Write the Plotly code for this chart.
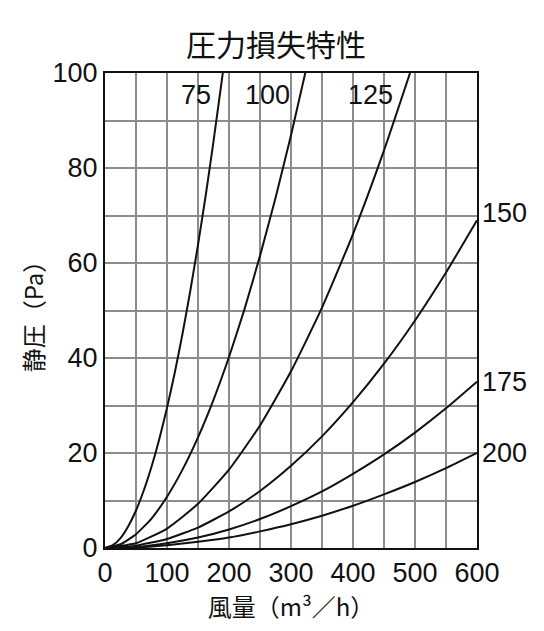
import plotly.graph_objects as go

INK = "#111111"
GRID = "#8c8c8c"
NUM = "Liberation Sans, Arial, sans-serif"
JP = "Noto Sans CJK JP, sans-serif"

# duct size labels and read-off curves (airflow m3/h -> static pressure Pa)
sizes = ["75", "100", "125", "150", "175", "200"]

q_75 = [0, 12.5, 25, 37.5, 50, 62.5, 75, 87.5, 100, 112.5, 125, 137.5, 150,
        162.5, 175, 190]
p_75 = [0, 0.6, 2.1, 4.6, 7.9, 12.1, 17.1, 22.9, 29.5, 36.9, 45.1, 54.1, 63.8,
        74.3, 85.6, 100]

q_100 = [0, 25, 50, 75, 100, 125, 150, 175, 200, 225, 250, 275, 300, 323]
p_100 = [0, 0.8, 2.9, 6.2, 10.8, 16.5, 23.3, 31.2, 40.2, 50.3, 61.5, 73.7,
         86.9, 100]

q_125 = [0, 50, 100, 150, 200, 250, 300, 350, 400, 450, 492]
p_125 = [0, 1.0, 4.1, 9.3, 16.5, 25.8, 37.2, 50.6, 66.1, 83.7, 100]

q_wide = [0, 50, 100, 150, 200, 250, 300, 350, 400, 450, 500, 550, 600]
p_150 = [0, 0.5, 1.9, 4.3, 7.7, 12.0, 17.3, 23.5, 30.7, 38.8, 47.9, 58.0, 69.0]
p_175 = [0, 0.2, 1.0, 2.2, 3.9, 6.1, 8.8, 11.9, 15.6, 19.7, 24.3, 29.4, 35.0]
p_200 = [0, 0.1, 0.6, 1.3, 2.2, 3.5, 5.0, 6.8, 8.9, 11.3, 13.9, 16.8, 20.0]

x_ticks = [0, 100, 200, 300, 400, 500, 600]
y_ticks = [0, 20, 40, 60, 80, 100]

curves = [
    (q_75, p_75), (q_100, p_100), (q_125, p_125),
    (q_wide, p_150), (q_wide, p_175), (q_wide, p_200),
]

fig = go.Figure()
for name, (q, p) in zip(sizes, curves):
    fig.add_trace(go.Scatter(
        x=q, y=p, name=name, mode="lines", showlegend=False,
        line={"color": INK, "width": 2, "shape": "spline", "smoothing": 0.5},
    ))

label_font = {"family": NUM, "size": 27, "color": INK}
# labels for the steep curves sit inside the top of the plot
for name, x in (("75", 174), ("100", 302), ("125", 468)):
    fig.add_annotation(x=x, y=95.4, text=name, showarrow=False,
                       xanchor="right", font=label_font)
# the flat ones are labelled just past the right edge
for name, y in (("150", p_150[-1] + 1.5), ("175", p_175[-1]), ("200", p_200[-1])):
    fig.add_annotation(x=1, xref="paper", y=y, text=name, showarrow=False,
                       xanchor="left", xshift=3, font=label_font)

axis = {
    "showline": True, "linecolor": INK, "linewidth": 2, "mirror": True,
    "zeroline": False, "gridcolor": GRID, "gridwidth": 1.6,
    "tickfont": {"family": NUM, "size": 27, "color": INK},
    "ticks": "", "fixedrange": True,
}
# the page body adds an 8px margin, so the figure is sized 8px short
fig.update_layout(
    width=536, height=623,
    paper_bgcolor="white", plot_bgcolor="white",
    margin={"l": 97, "r": 67, "t": 65, "b": 83},
    title={"text": "圧力損失特性", "x": 0.5, "xanchor": "center",
           "xref": "container", "yref": "container",
           "y": 0.94, "yanchor": "middle",
           "font": {"family": JP, "size": 30, "color": INK}},
    xaxis={**axis, "range": [0, 600], "tickvals": x_ticks,
           "minor": {"dtick": 50, "showgrid": True, "gridcolor": GRID,
                     "gridwidth": 1.6},
           "title": {"text": "風量（m³／h）", "standoff": 2,
                     "font": {"family": JP, "size": 24, "color": INK}}},
    yaxis={**axis, "range": [0, 100], "tickvals": y_ticks,
           "minor": {"dtick": 10, "showgrid": True, "gridcolor": GRID,
                     "gridwidth": 1.6},
           "title": {"text": "静圧（Pa）", "standoff": 2,
                     "font": {"family": JP, "size": 24, "color": INK}}},
)

fig.write_html("out.html")
